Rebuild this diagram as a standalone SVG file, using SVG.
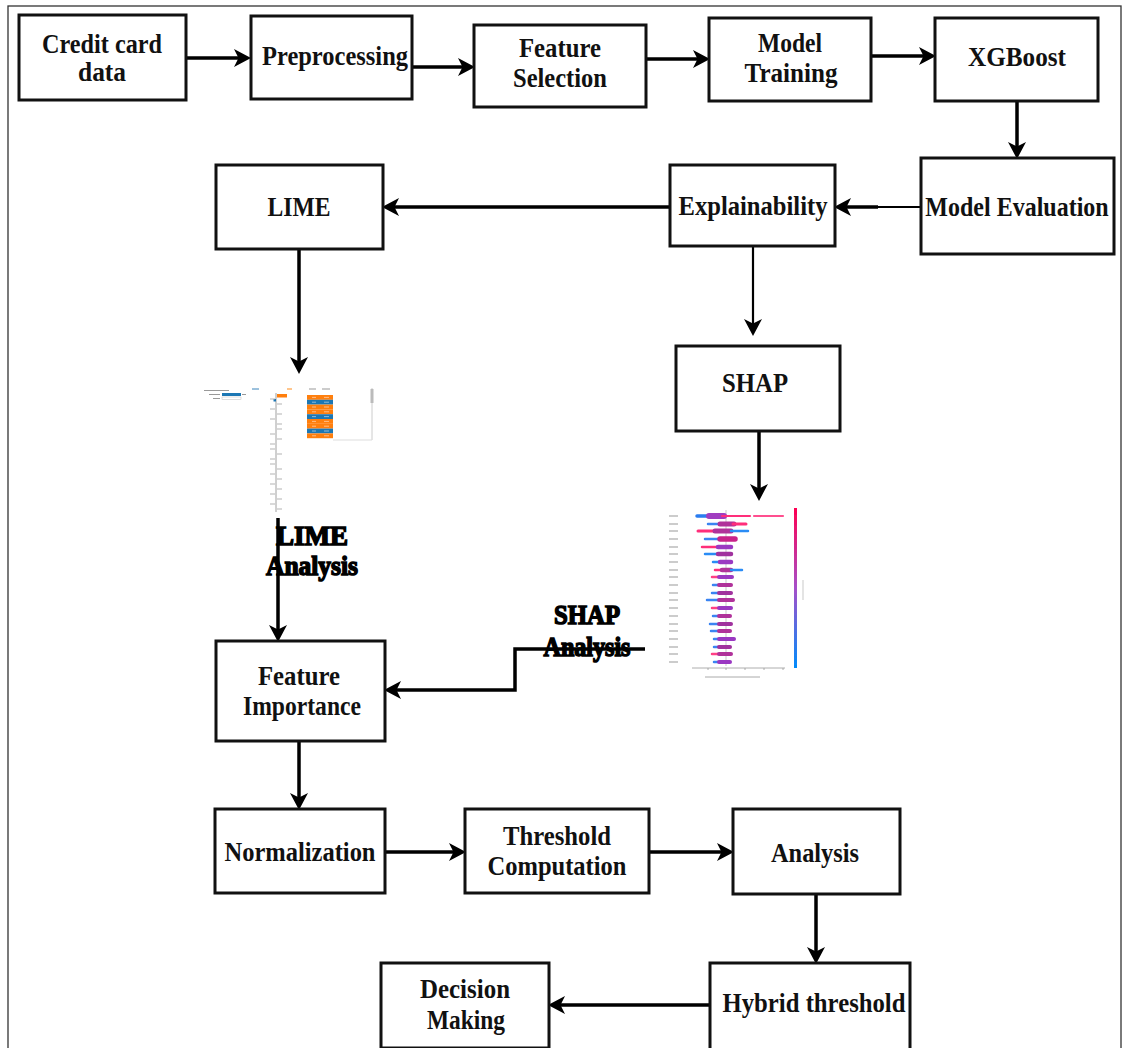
<svg xmlns="http://www.w3.org/2000/svg" width="1123" height="1048" viewBox="0 0 1123 1048">
  <style>
    .box { fill: #fff; stroke: #111; stroke-width: 3; }
    .lbl { font-family: "Liberation Serif", "Times New Roman", serif; font-weight: bold; font-size: 28px; fill: #111; text-anchor: middle; }
    .lbl.narrow { font-size: 24px; }
    .heavy { font-family: "Liberation Serif", "Times New Roman", serif; font-weight: bold; font-size: 27px; fill: #000; stroke: #000; stroke-width: 1.5; text-anchor: middle; }
    .wire { fill: none; stroke: #000; stroke-width: 3.5; marker-end: url(#arrow); }
    .thin { fill: none; stroke: #000; stroke-width: 2.2; }
    .tiny { stroke: #999; stroke-width: 1; fill: none; }
  </style>
  <defs>
    <marker id="arrow" viewBox="0 0 17 18" markerWidth="17" markerHeight="18" refX="8" refY="9" orient="auto" markerUnits="userSpaceOnUse">
      <path d="M0,0 L17,9 L0,18 L4.5,9 Z" fill="#000"/>
    </marker>
    <linearGradient id="cbar" x1="0" y1="0" x2="0" y2="1">
      <stop offset="0" stop-color="#ff0051"/>
      <stop offset="0.5" stop-color="#a64fc9"/>
      <stop offset="1" stop-color="#008bfb"/>
    </linearGradient>
    <filter id="soft" x="-5%" y="-5%" width="110%" height="110%">
      <feGaussianBlur stdDeviation="0.45"/>
    </filter>
  </defs>

  <rect width="1123" height="1048" fill="#fff"/>
  <!-- page frame -->
  <rect x="8" y="6" width="1113" height="1100" fill="none" stroke="#333" stroke-width="1.3"/>

  <!-- connectors -->
  <g id="connectors">
    <path class="wire" d="M186,58 H242"/>
    <path class="wire" d="M412,67 H466"/>
    <path class="wire" d="M646,59 H701"/>
    <path class="wire" d="M871,56 H927"/>
    <path class="wire" d="M1017,101 V150"/>
    <path class="thin" d="M921,207 H876"/>
    <path class="wire" d="M878,207 H843"/>
    <path class="wire" d="M670,207 H391"/>
    <path class="wire" d="M299,249 V365"/>
    <path class="thin" d="M753,246 V327" marker-end="url(#arrow)"/>
    <path class="wire" d="M759,431 V492"/>
    <path class="wire" d="M278,518 V633"/>
    <path class="wire" stroke-width="3" d="M645,649 H515 V690 H393"/>
    <path class="wire" d="M299,741 V801"/>
    <path class="wire" d="M385,852 H457"/>
    <path class="wire" d="M649,852 H725"/>
    <path class="wire" d="M816,894 V955"/>
    <path class="wire" d="M710,1005 H557"/>
  </g>

  <!-- process boxes -->
  <g id="credit-card-data">
    <rect class="box" x="19" y="15" width="167" height="85"/>
    <text class="lbl" x="102" y="53" textLength="120" lengthAdjust="spacingAndGlyphs">Credit card</text>
    <text class="lbl" x="102" y="81" textLength="48" lengthAdjust="spacingAndGlyphs">data</text>
  </g>
  <g id="preprocessing">
    <rect class="box" x="251" y="16" width="161" height="83"/>
    <text class="lbl" x="335" y="65" textLength="146" lengthAdjust="spacingAndGlyphs">Preprocessing</text>
  </g>
  <g id="feature-selection">
    <rect class="box" x="474" y="25" width="172" height="82"/>
    <text class="lbl" x="560" y="57" textLength="82" lengthAdjust="spacingAndGlyphs">Feature</text>
    <text class="lbl" x="560" y="87" textLength="94" lengthAdjust="spacingAndGlyphs">Selection</text>
  </g>
  <g id="model-training">
    <rect class="box" x="709" y="18" width="162" height="83"/>
    <text class="lbl" x="790" y="52" textLength="64" lengthAdjust="spacingAndGlyphs">Model</text>
    <text class="lbl" x="791" y="82" textLength="93" lengthAdjust="spacingAndGlyphs">Training</text>
  </g>
  <g id="xgboost">
    <rect class="box" x="935" y="18" width="163" height="83"/>
    <text class="lbl" x="1017" y="66" textLength="98" lengthAdjust="spacingAndGlyphs">XGBoost</text>
  </g>
  <g id="model-evaluation">
    <rect class="box" x="921" y="158" width="193" height="96"/>
    <text class="lbl narrow" transform="translate(1017,216) scale(1,1.15)" x="0" y="0">Model Evaluation</text>
  </g>
  <g id="explainability">
    <rect class="box" x="670" y="165" width="165" height="81"/>
    <text class="lbl" x="753" y="215" textLength="149" lengthAdjust="spacingAndGlyphs">Explainability</text>
  </g>
  <g id="lime">
    <rect class="box" x="216" y="165" width="167" height="84"/>
    <text class="lbl" x="299" y="216" textLength="63" lengthAdjust="spacingAndGlyphs">LIME</text>
  </g>
  <g id="shap">
    <rect class="box" x="676" y="346" width="164" height="85"/>
    <text class="lbl" x="755" y="392" textLength="66" lengthAdjust="spacingAndGlyphs">SHAP</text>
  </g>
  <g id="feature-importance">
    <rect class="box" x="216" y="641" width="169" height="100"/>
    <text class="lbl" x="299" y="685" textLength="82" lengthAdjust="spacingAndGlyphs">Feature</text>
    <text class="lbl" x="302" y="715" textLength="118" lengthAdjust="spacingAndGlyphs">Importance</text>
  </g>
  <g id="normalization">
    <rect class="box" x="215" y="809" width="170" height="84"/>
    <text class="lbl" x="300" y="861" textLength="151" lengthAdjust="spacingAndGlyphs">Normalization</text>
  </g>
  <g id="threshold-computation">
    <rect class="box" x="465" y="809" width="184" height="84"/>
    <text class="lbl" x="557" y="845" textLength="108" lengthAdjust="spacingAndGlyphs">Threshold</text>
    <text class="lbl" x="557" y="875" textLength="139" lengthAdjust="spacingAndGlyphs">Computation</text>
  </g>
  <g id="analysis">
    <rect class="box" x="733" y="809" width="167" height="85"/>
    <text class="lbl" x="815" y="862" textLength="88" lengthAdjust="spacingAndGlyphs">Analysis</text>
  </g>
  <g id="hybrid-threshold">
    <rect class="box" x="710" y="963" width="200" height="95"/>
    <text class="lbl" x="814" y="1012" textLength="183" lengthAdjust="spacingAndGlyphs">Hybrid threshold</text>
  </g>
  <g id="decision-making">
    <rect class="box" x="381" y="963" width="168" height="85"/>
    <text class="lbl" x="465" y="998" textLength="90" lengthAdjust="spacingAndGlyphs">Decision</text>
    <text class="lbl" x="466" y="1029" textLength="78" lengthAdjust="spacingAndGlyphs">Making</text>
  </g>

  <!-- LIME explanation chart -->
  <g id="lime-chart" filter="url(#soft)">
    <line class="tiny" x1="204" y1="390.5" x2="229" y2="390.5" stroke-width="0.8"/>
    <line class="tiny" x1="209" y1="394.5" x2="220" y2="394.5" stroke-width="0.8"/>
    <rect x="222" y="393" width="19" height="3" fill="#1f77b4"/>
    <line class="tiny" x1="242" y1="394.5" x2="246" y2="394.5" stroke-width="0.8"/>
    <line class="tiny" x1="213" y1="398.5" x2="220" y2="398.5" stroke-width="0.8"/>
    <rect x="222" y="397" width="19" height="2.5" fill="none" stroke="#bbb" stroke-width="0.5"/>
    <line x1="252" y1="389" x2="259" y2="389" stroke="#1f77b4" stroke-width="0.9"/>
    <line x1="287" y1="389" x2="292" y2="389" stroke="#ff7f0e" stroke-width="0.9"/>
    <line x1="276" y1="393" x2="276" y2="512" stroke="#888" stroke-width="0.8"/>
    <rect x="277" y="394" width="10" height="3.5" fill="#ff7f0e"/>
    <rect x="273.5" y="399" width="2.5" height="2.5" fill="#1f77b4"/>
    <path d="M270,399 h5 M277,404 h5 M270,409 h5 M277,414 h5 M270,419 h5 M277,424 h5 M277,429 h5 M270,434 h5 M277,439 h5 M270,444 h5 M270,449 h5 M277,454 h5 M270,459 h5 M270,464 h5 M277,469 h5 M270,474 h5 M277,479 h5 M270,484 h5 M277,489 h5 M270,494 h5 M277,499 h5 M270,504 h5 M277,509 h5" stroke="#aaa" stroke-width="0.9" fill="none"/>
    <line class="tiny" x1="309" y1="389" x2="316" y2="389" stroke-width="0.8"/>
    <line class="tiny" x1="322" y1="389" x2="330" y2="389" stroke-width="0.8"/>
    <rect x="307" y="395" width="26" height="4.8" fill="#ff7f0e"/>
    <rect x="307" y="399.8" width="26" height="4.8" fill="#1f77b4"/>
    <rect x="307" y="404.6" width="26" height="4.8" fill="#ff7f0e"/>
    <rect x="307" y="409.4" width="26" height="4.8" fill="#ff7f0e"/>
    <rect x="307" y="414.2" width="26" height="4.8" fill="#1f77b4"/>
    <rect x="307" y="419" width="26" height="4.8" fill="#ff7f0e"/>
    <rect x="307" y="423.8" width="26" height="4.8" fill="#ff7f0e"/>
    <rect x="307" y="428.6" width="26" height="4.8" fill="#1f77b4"/>
    <rect x="307" y="433.4" width="26" height="4.8" fill="#ff7f0e"/>
    <path d="M312,397.4 h4 M324,397.4 h5 M312,402.2 h4 M324,402.2 h5 M312,407 h4 M324,407 h5 M312,411.8 h4 M324,411.8 h5 M312,416.6 h4 M324,416.6 h5 M312,421.4 h4 M324,421.4 h5 M312,426.2 h4 M324,426.2 h5 M312,431 h4 M324,431 h5 M312,435.8 h4 M324,435.8 h5" stroke="#fff" stroke-width="0.7" opacity="0.7" fill="none"/>
    <line x1="372" y1="388" x2="372" y2="440" stroke="#ccc" stroke-width="1"/>
    <line x1="333" y1="440" x2="372" y2="440" stroke="#ddd" stroke-width="1"/>
    <rect x="370.5" y="389" width="3" height="14" fill="#bbb"/>
  </g>

  <!-- SHAP summary plot -->
  <g id="shap-chart" filter="url(#soft)">
    <line x1="726" y1="510" x2="726" y2="666" stroke="#bbb" stroke-width="0.8"/>
    <path d="M669,516 h9 M669,524 h9 M669,531 h9 M669,539 h9 M669,547 h9 M669,554 h9 M669,562 h9 M669,570 h9 M669,577 h9 M669,585 h9 M669,593 h9 M669,600 h9 M669,608 h9 M669,616 h9 M669,624 h9 M669,631 h9 M669,639 h9 M669,647 h9 M669,654 h9 M669,662 h9" stroke="#999" stroke-width="1.2" fill="none"/>
    <g stroke-linecap="round" fill="none">
      <!-- row 0 -->
      <path d="M697,516 H712" stroke="#2a7cf0" stroke-width="3.5"/>
      <path d="M709,516 H724" stroke="#a03cc0" stroke-width="6"/>
      <path d="M722,516 H750" stroke="#ff2f7a" stroke-width="2.2"/>
      <path d="M754,516 H783" stroke="#ff4f8f" stroke-width="2.2"/>
      <!-- row 1 -->
      <path d="M708,524 H721" stroke="#3a84f2" stroke-width="2.5"/>
      <path d="M720,524 H734" stroke="#b0309a" stroke-width="5"/>
      <path d="M733,524 H746" stroke="#ff2f7a" stroke-width="3"/>
      <!-- row 2 -->
      <path d="M698,531 H715" stroke="#ff2f7a" stroke-width="3"/>
      <path d="M715,531 H731" stroke="#b0309a" stroke-width="5"/>
      <path d="M731,531 H748" stroke="#2a8cf5" stroke-width="2.5"/>
      <!-- row 3 -->
      <path d="M705,539 H720" stroke="#3a84f2" stroke-width="2.5"/>
      <path d="M720,539 H735" stroke="#c8208a" stroke-width="5.5"/>
      <!-- row 4 -->
      <path d="M702,547 H718" stroke="#ff2f7a" stroke-width="2.5"/>
      <path d="M718,547 H731" stroke="#9a38c2" stroke-width="4.5"/>
      <!-- row 5 -->
      <path d="M705,554 H718" stroke="#2a8cf5" stroke-width="2.5"/>
      <path d="M718,554 H731" stroke="#a0309e" stroke-width="4.5"/>
      <!-- row 6 -->
      <path d="M713,562 H722" stroke="#2a8cf5" stroke-width="2.5"/>
      <path d="M720,562 H731" stroke="#9a38c2" stroke-width="4.5"/>
      <!-- row 7 -->
      <path d="M715,570 H723" stroke="#ff2f7a" stroke-width="2.5"/>
      <path d="M722,570 H731" stroke="#b0309a" stroke-width="4.5"/>
      <path d="M731,570 H742" stroke="#2a8cf5" stroke-width="2.5"/>
      <!-- rows 8-19 -->
      <path d="M712,577 H720" stroke="#ff3f85" stroke-width="2.5"/>
      <path d="M719,577 H732" stroke="#9a38c2" stroke-width="4"/>
      <path d="M713,585 H720" stroke="#3a84f2" stroke-width="2.5"/>
      <path d="M719,585 H731" stroke="#b0309a" stroke-width="4"/>
      <path d="M712,593 H720" stroke="#3a84f2" stroke-width="2.5"/>
      <path d="M719,593 H731" stroke="#a0309e" stroke-width="4"/>
      <path d="M707,600 H720" stroke="#3a84f2" stroke-width="2.5"/>
      <path d="M719,600 H733" stroke="#b0309a" stroke-width="4"/>
      <path d="M712,608 H720" stroke="#ff3f85" stroke-width="2.5"/>
      <path d="M719,608 H731" stroke="#9a38c2" stroke-width="4"/>
      <path d="M713,616 H720" stroke="#3a84f2" stroke-width="2.5"/>
      <path d="M719,616 H730" stroke="#b0309a" stroke-width="4"/>
      <path d="M710,624 H720" stroke="#3a84f2" stroke-width="2.5"/>
      <path d="M719,624 H731" stroke="#a0309e" stroke-width="4"/>
      <path d="M711,631 H720" stroke="#3a84f2" stroke-width="2.5"/>
      <path d="M719,631 H730" stroke="#b0309a" stroke-width="4"/>
      <path d="M714,639 H720" stroke="#3a84f2" stroke-width="2.5"/>
      <path d="M719,639 H734" stroke="#9a38c2" stroke-width="4"/>
      <path d="M714,647 H720" stroke="#3a84f2" stroke-width="2.5"/>
      <path d="M719,647 H730" stroke="#a0309e" stroke-width="4"/>
      <path d="M712,654 H720" stroke="#ff3f85" stroke-width="2.5"/>
      <path d="M719,654 H731" stroke="#b0309a" stroke-width="4"/>
      <path d="M714,662 H720" stroke="#3a84f2" stroke-width="2.5"/>
      <path d="M719,662 H730" stroke="#9a38c2" stroke-width="4"/>
    </g>
    <line x1="692" y1="668" x2="785" y2="668" stroke="#999" stroke-width="0.8"/>
    <path d="M708,668 v2 M726,668 v2 M745,668 v2 M764,668 v2 M783,668 v2" stroke="#999" stroke-width="0.8"/>
    <line x1="705" y1="677" x2="760" y2="677" stroke="#aaa" stroke-width="1"/>
    <rect x="794" y="508" width="3" height="160" fill="url(#cbar)"/>
    <line x1="803" y1="580" x2="803" y2="600" stroke="#bbb" stroke-width="0.8"/>
  </g>

  <!-- method labels -->
  <g id="lime-analysis">
    <text class="heavy" x="312" y="545" textLength="72" lengthAdjust="spacingAndGlyphs">LIME</text>
    <text class="heavy" x="312" y="575" textLength="92" lengthAdjust="spacingAndGlyphs">Analysis</text>
  </g>
  <g id="shap-analysis">
    <text class="heavy" x="587" y="624" textLength="66" lengthAdjust="spacingAndGlyphs">SHAP</text>
    <text class="heavy" x="587" y="656" textLength="87" lengthAdjust="spacingAndGlyphs">Analysis</text>
  </g>
</svg>
